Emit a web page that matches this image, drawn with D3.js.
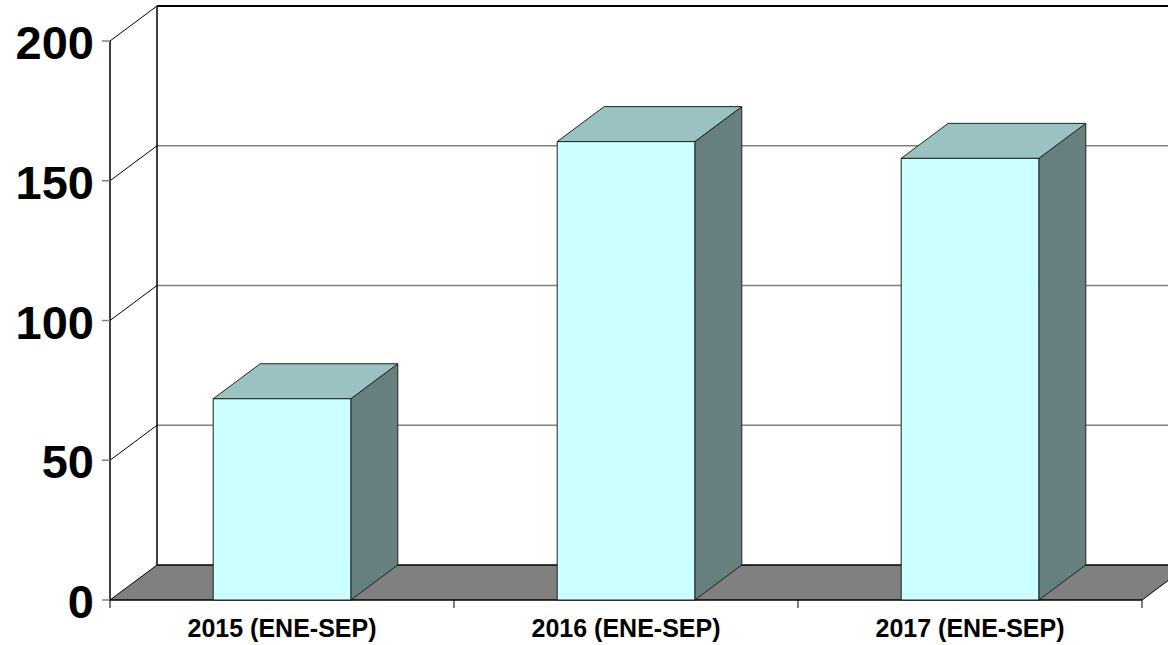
<!DOCTYPE html>
<html>
<head>
    <meta charset="UTF-8">
    <title>Chart</title>
    <script src="https://cdn.jsdelivr.net/npm/d3@7"></script>
    <style>
        body { margin: 0; background: #fff; }
        text { font-family: Arial, "Liberation Sans", sans-serif; font-weight: bold; }
    </style>
</head>
<body>
    <script>
        var categories = ['2015 (ENE-SEP)', '2016 (ENE-SEP)', '2017 (ENE-SEP)']
        var values = [72, 164, 158]
        var yTicks = [0, 50, 100, 150, 200]

        var W = 1168, H = 645
        var dx = 47, dy = -35   // depth offset of the 3d box

        var svg = d3.select('body')
            .append('svg')
            .attr('width', W)
            .attr('height', H)

        var x = d3.scaleBand()
            .domain(categories)
            .range([110, 1142])
            .paddingInner(0.6)
            .paddingOuter(0.3)

        var y = d3.scaleLinear()
            .domain([0, 200])
            .range([600, 41])

        var x0 = x.range()[0], x1 = x.range()[1]

        function pts(a) {
            return a.map(function(p){ return p.join(',') }).join(' ')
        }

        // floor
        svg.append('polygon')
            .attr('points', pts([[x0, y(0)], [x1, y(0)], [x1 + dx, y(0) + dy], [x0 + dx, y(0) + dy]]))
            .attr('fill', '#808080')
        svg.append('line')
            .attr('x1', x0 + dx).attr('x2', W + 10)
            .attr('y1', y(0) + dy).attr('y2', y(0) + dy)
            .attr('stroke', '#000').attr('stroke-width', 1.5)
        svg.append('line')
            .attr('x1', x1).attr('x2', x1 + dx)
            .attr('y1', y(0)).attr('y2', y(0) + dy)
            .attr('stroke', '#000')

        // back wall gridlines
        svg.selectAll('.grid')
            .data(yTicks.filter(function(d){ return d > 0 && d < 200 }))
            .enter()
            .append('line')
            .attr('x1', x0 + dx).attr('x2', W + 10)
            .attr('y1', function(d){ return y(d) + dy })
            .attr('y2', function(d){ return y(d) + dy })
            .attr('stroke', '#808080').attr('stroke-width', 1.5)

        svg.append('line')
            .attr('x1', x0 + dx).attr('x2', W + 10)
            .attr('y1', y(200) + dy).attr('y2', y(200) + dy)
            .attr('stroke', '#000').attr('stroke-width', 2)

        // side wall diagonals
        svg.selectAll('.diag')
            .data(yTicks)
            .enter()
            .append('line')
            .attr('x1', x0).attr('x2', x0 + dx)
            .attr('y1', function(d){ return y(d) })
            .attr('y2', function(d){ return y(d) + dy })
            .attr('stroke', '#000').attr('stroke-width', 1)

        // wall edges
        svg.append('line')
            .attr('x1', x0 + dx).attr('x2', x0 + dx)
            .attr('y1', y(200) + dy).attr('y2', y(0) + dy)
            .attr('stroke', '#000').attr('stroke-width', 1.5)
        svg.append('line')
            .attr('x1', x0).attr('x2', x0)
            .attr('y1', y(200)).attr('y2', y(0))
            .attr('stroke', '#000').attr('stroke-width', 1.5)
        svg.append('line')
            .attr('x1', x0).attr('x2', x1)
            .attr('y1', y(0)).attr('y2', y(0))
            .attr('stroke', '#000').attr('stroke-width', 1.5)

        // y ticks and labels
        svg.selectAll('.ytick')
            .data(yTicks)
            .enter()
            .append('line')
            .attr('x1', x0 - 8).attr('x2', x0)
            .attr('y1', function(d){ return y(d) })
            .attr('y2', function(d){ return y(d) })
            .attr('stroke', '#808080').attr('stroke-width', 1.5)

        svg.selectAll('.ylab')
            .data(yTicks)
            .enter()
            .append('text')
            .attr('x', 94)
            .attr('y', function(d){ return y(d) + 18 })
            .attr('text-anchor', 'end')
            .attr('font-size', 47)
            .attr('fill', '#000')
            .text(function(d){ return d })

        // x ticks
        var xt = [x0].concat(categories.map(function(c){ return x(c) - x.step() * x.paddingInner() / 2 + x.step() }))
        svg.selectAll('.xtick')
            .data(xt)
            .enter()
            .append('line')
            .attr('x1', function(d){ return d }).attr('x2', function(d){ return d })
            .attr('y1', y(0)).attr('y2', y(0) + 8)
            .attr('stroke', '#000').attr('stroke-width', 1)

        // bars
        var bars = svg.selectAll('.bar')
            .data(values)
            .enter()
            .append('g')

        bars.append('polygon')
            .attr('points', function(d, i){
                var l = x(categories[i]), r = l + x.bandwidth(), t = y(d)
                return pts([[r, t], [r + dx, t + dy], [r + dx, y(0) + dy], [r, y(0)]])
            })
            .attr('fill', '#668080').attr('stroke', '#222').attr('stroke-width', 1)

        bars.append('polygon')
            .attr('points', function(d, i){
                var l = x(categories[i]), r = l + x.bandwidth(), t = y(d)
                return pts([[l, t], [r, t], [r + dx, t + dy], [l + dx, t + dy]])
            })
            .attr('fill', '#99C2C0').attr('stroke', '#222').attr('stroke-width', 1)

        bars.append('rect')
            .attr('x', function(d, i){ return x(categories[i]) })
            .attr('y', function(d){ return y(d) })
            .attr('width', x.bandwidth())
            .attr('height', function(d){ return y(0) - y(d) })
            .attr('fill', '#CCFFFF').attr('stroke', '#222').attr('stroke-width', 1)

        // category labels
        svg.selectAll('.xlab')
            .data(categories)
            .enter()
            .append('text')
            .attr('x', function(d){ return x(d) + x.bandwidth() / 2 })
            .attr('y', 637)
            .attr('text-anchor', 'middle')
            .attr('font-size', 25)
            .attr('fill', '#000')
            .text(function(d){ return d })
    </script>
</body>
</html>
